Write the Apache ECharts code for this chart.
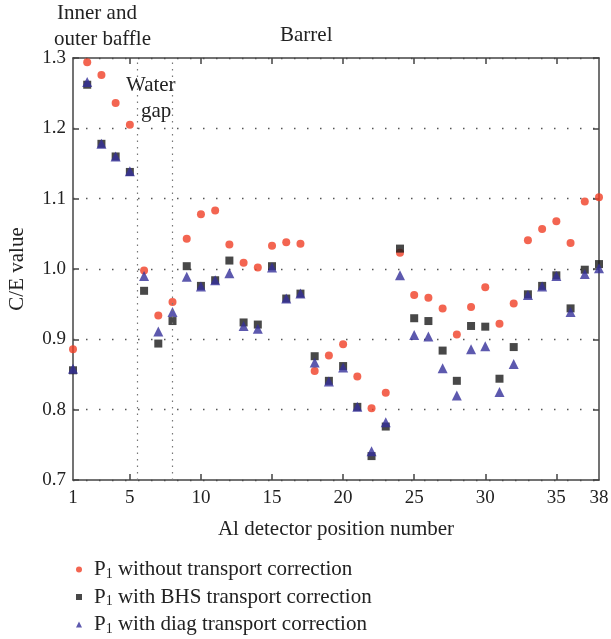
<!DOCTYPE html>
<html>
<head>
<meta charset="utf-8">
<script src="https://cdn.jsdelivr.net/npm/echarts@6/dist/echarts.min.js"></script>
<style>html,body{margin:0;padding:0;background:#fff;}#c{width:611px;height:639px;}</style>
</head>
<body>
<div id="c"></div>
<script>
var positions = [1,2,3,4,5,6,7,8,9,10,11,12,13,14,15,16,17,18,19,20,21,22,23,24,25,26,27,28,29,30,31,32,33,34,35,36,37,38];
var noCorrection = [0.886,1.294,1.276,1.236,1.205,0.998,0.934,0.953,1.043,1.078,1.083,1.035,1.009,1.002,1.033,1.038,1.036,0.855,0.877,0.893,0.847,0.802,0.824,1.023,0.963,0.959,0.944,0.907,0.946,0.974,0.922,0.951,1.041,1.057,1.068,1.037,1.096,1.102];
var bhsCorrection = [0.856,1.262,1.178,1.160,1.138,0.969,0.894,0.926,1.004,0.976,0.984,1.012,0.924,0.921,1.004,0.958,0.965,0.876,0.841,0.862,0.804,0.734,0.776,1.029,0.930,0.926,0.884,0.841,0.919,0.918,0.844,0.889,0.964,0.976,0.991,0.944,0.999,1.007];
var diagCorrection = [0.858,1.266,1.178,1.160,1.139,0.990,0.911,0.939,0.989,0.975,0.984,0.994,0.919,0.915,1.002,0.958,0.965,0.867,0.840,0.860,0.804,0.741,0.782,0.991,0.906,0.904,0.859,0.820,0.886,0.890,0.825,0.865,0.963,0.975,0.990,0.939,0.993,1.001];
var xTickLabels = [1,5,10,15,20,25,30,35,38];
var yTicks = [0.7,0.8,0.9,1.0,1.1,1.2,1.3];
var regionBoundaries = [5.5, 8];
var seriesNames = ['P1 without transport correction','P1 with BHS transport correction','P1 with diag transport correction'];

var FONT = 'Liberation Serif';
function pairs(v){ return positions.map(function(p,i){ return [p, v[i]]; }); }

var chart = echarts.init(document.getElementById('c'));
var axisLine = {show:true, lineStyle:{color:'#444', width:1.5}};
var tickVals = xTickLabels.slice(1, -1);
var option = {
  animation:false,
  backgroundColor:'#fff',
  textStyle:{fontFamily:FONT},
  grid:{left:73, right:12, top:58, bottom:159, containLabel:false, outerBoundsMode:'none'},
  xAxis:[{
    type:'value', min:1, max:38, position:'bottom',
    name:'Al detector position number', nameLocation:'middle', nameGap:39,
    nameTextStyle:{fontFamily:FONT, fontSize:21, color:'#222'},
    axisLine:axisLine,
    axisTick:{show:true, inside:true, length:6, customValues:tickVals, lineStyle:{color:'#444', width:1.5}},
    axisLabel:{customValues:xTickLabels, fontFamily:FONT, fontSize:19, color:'#222', margin:9},
    splitLine:{show:false}
  },{
    type:'value', min:1, max:38, position:'top',
    axisLine:axisLine,
    axisTick:{show:true, inside:true, length:6, customValues:tickVals, lineStyle:{color:'#444', width:1.5}},
    axisLabel:{show:false}, splitLine:{show:false}
  }],
  yAxis:[{
    type:'value', min:0.7, max:1.3, interval:0.1, position:'left',
    name:'C/E value', nameLocation:'middle', nameGap:45, nameRotate:90,
    nameTextStyle:{fontFamily:FONT, fontSize:21, color:'#222'},
    axisLine:axisLine,
    axisTick:{show:true, inside:true, length:6, lineStyle:{color:'#444', width:1.5}},
    axisLabel:{fontFamily:FONT, fontSize:19, color:'#222', margin:7, formatter:function(v){return v.toFixed(1);}},
    splitLine:{show:true, lineStyle:{type:[1.5,11.5], color:'#555', width:1.3}}
  },{
    type:'value', min:0.7, max:1.3, interval:0.1, position:'right',
    axisLine:axisLine,
    axisTick:{show:true, inside:true, length:6, lineStyle:{color:'#444', width:1.5}},
    axisLabel:{show:false}, splitLine:{show:false}
  }],
  legend:{
    orient:'vertical', left:76, top:558, padding:0, itemGap:4.5, itemWidth:6, itemHeight:6,
    data:[{name:seriesNames[0], icon:'circle'},{name:seriesNames[1], icon:'rect'},{name:seriesNames[2], icon:'triangle'}],
    formatter:function(n){ return '{p|P}{s|1}{n|' + n.slice(2) + '}'; },
    textStyle:{fontFamily:FONT, fontSize:21, color:'#222',
      rich:{p:{fontFamily:FONT, fontSize:21, color:'#222', lineHeight:21, padding:[0,0,0,7]},
            n:{fontFamily:FONT, fontSize:21, color:'#222', lineHeight:21},
            s:{fontFamily:FONT, fontSize:14, color:'#222', padding:[9,0,0,0], lineHeight:21}}}
  },
  graphic:[
    {type:'text', left:57, top:3, style:{text:'Inner and', font:'21px "Liberation Serif"', fill:'#222'}},
    {type:'text', left:54, top:29, style:{text:'outer baffle', font:'21px "Liberation Serif"', fill:'#222'}},
    {type:'text', left:280, top:25, style:{text:'Barrel', font:'21px "Liberation Serif"', fill:'#222'}},
    {type:'text', left:126, top:75, style:{text:'Water', font:'21px "Liberation Serif"', fill:'#222'}},
    {type:'text', left:141, top:101, style:{text:'gap', font:'21px "Liberation Serif"', fill:'#222'}}
  ],
  series:[
    {name:seriesNames[0], type:'scatter', symbol:'circle', symbolSize:8, itemStyle:{color:'#f03e26'}, data:pairs(noCorrection), z:2,
     markLine:{silent:true, symbol:'none', label:{show:false},
       lineStyle:{type:[1.5,5], color:'#777', width:1.2},
       data:regionBoundaries.map(function(x){return {xAxis:x};})}},
    {name:seriesNames[1], type:'scatter', symbol:'rect', symbolSize:8, itemStyle:{color:'#1a1a1a'}, data:pairs(bhsCorrection), z:3},
    {name:seriesNames[2], type:'scatter', symbol:'triangle', symbolSize:10, itemStyle:{color:'#34309a'}, data:pairs(diagCorrection), z:4}
  ]
};
chart.setOption(option);
</script>
</body>
</html>
